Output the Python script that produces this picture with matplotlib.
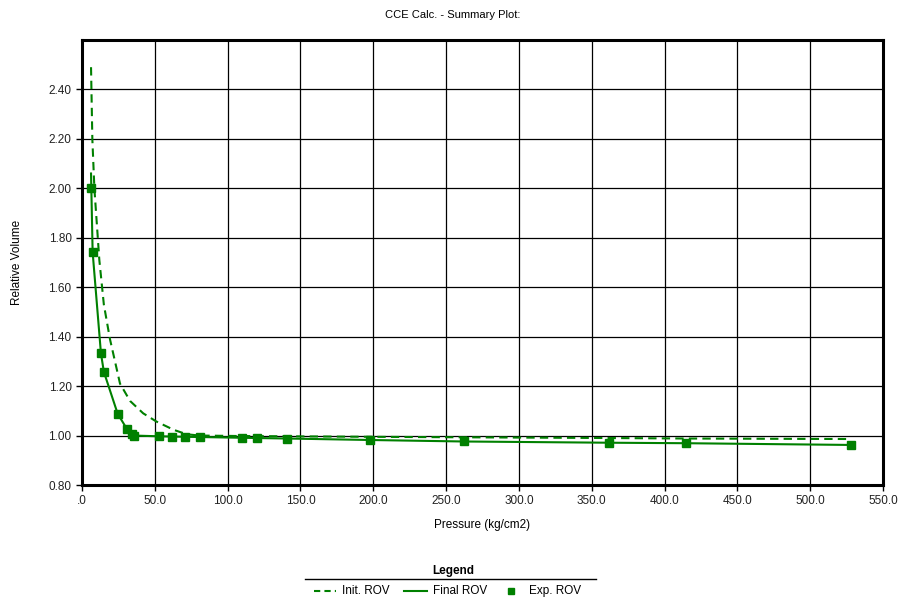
import matplotlib
matplotlib.use("Agg")
import matplotlib.pyplot as plt
from matplotlib.lines import Line2D

plt.rcParams['font.family'] = ['Liberation Sans', 'DejaVu Sans']

# Data
init_p = [6.2, 7.1, 8.5, 11.9, 15.0, 19.2, 26.1, 33.0, 42.0, 51.0, 63.0, 72.0, 81.0,
          110.0, 141.0, 198.0, 262.0, 362.0, 415.0, 528.0]
init_rov = [2.49, 2.20, 2.00, 1.71, 1.53, 1.39, 1.21, 1.14, 1.09, 1.057, 1.023, 1.005, 1.0,
            0.998, 0.997, 0.995, 0.993, 0.990, 0.988, 0.986]

final_p = [6.2, 7.3, 13.0, 15.0, 24.5, 30.8, 35.5, 53.0, 62.0, 71.0, 81.0,
           110.0, 120.0, 141.0, 198.0, 262.0, 362.0, 415.0, 528.0]
final_rov = [2.06, 1.742, 1.333, 1.258, 1.088, 1.027, 1.0, 0.997, 0.996, 0.995, 0.994,
             0.991, 0.990, 0.988, 0.982, 0.976, 0.971, 0.969, 0.962]

exp_p = [6.2, 7.3, 13.0, 15.0, 24.5, 30.8, 34.0, 35.5, 53.0, 62.0, 71.0, 81.0,
         110.0, 120.0, 141.0, 198.0, 262.0, 362.0, 415.0, 528.0]
exp_rov = [2.00, 1.742, 1.333, 1.258, 1.088, 1.027, 1.005, 1.0, 0.997, 0.996, 0.995, 0.994,
           0.991, 0.990, 0.988, 0.982, 0.976, 0.971, 0.969, 0.962]

x_ticks = [0, 50, 100, 150, 200, 250, 300, 350, 400, 450, 500, 550]
x_labels = ['.0', '50.0', '100.0', '150.0', '200.0', '250.0', '300.0', '350.0',
            '400.0', '450.0', '500.0', '550.0']
y_ticks = [0.8, 1.0, 1.2, 1.4, 1.6, 1.8, 2.0, 2.2, 2.4]
y_labels = ['0.80', '1.00', '1.20', '1.40', '1.60', '1.80', '2.00', '2.20', '2.40']

series_names = ['Init. ROV', 'Final ROV', 'Exp. ROV']

green = '#008000'
W, H = 904, 604

fig = plt.figure(figsize=(9.04, 6.04), dpi=100)
ax = fig.add_axes([82/W, 1-485/H, (883-82)/W, (485-40)/H])

ax.plot(init_p, init_rov, color=green, lw=1.5, ls=(0, (4, 2.5)))
ax.plot(final_p, final_rov, color=green, lw=1.5)
ax.plot(exp_p, exp_rov, ls='none', marker='s', ms=5.5, color=green)

ax.set_xlim(0, 550)
ax.set_ylim(0.8, 2.6)
ax.set_xticks(x_ticks)
ax.set_xticklabels(x_labels)
ax.set_yticks(y_ticks)
ax.set_yticklabels(y_labels)
ax.grid(True, color='black', lw=0.9)
ax.set_axisbelow(True)
for s in ax.spines.values():
    s.set_linewidth(2.2)
    s.set_color('black')
ax.tick_params(axis='both', direction='out', length=4, width=1, labelsize=8.5,
               colors='black', labelcolor='#222222')

ax.set_xlabel('Pressure (kg/cm2)', fontsize=8.5, labelpad=8)
ax.set_ylabel('Relative Volume', fontsize=8.5, labelpad=18)
fig.text(453/W, 1-15/H, 'CCE Calc. - Summary Plot:', ha='center', va='center', fontsize=8)

# Manual legend
def fx(px):
    return px / W

def fy(py):
    return 1 - py / H

fig.text(fx(453), fy(571), 'Legend', ha='center', va='center', fontsize=8.5, fontweight='bold')
fig.add_artist(Line2D([fx(305), fx(596)], [fy(579), fy(579)], color='black', lw=1,
                      transform=fig.transFigure))
ly = fy(591)
fig.add_artist(Line2D([fx(314), fx(336)], [ly, ly], color=green, lw=1.5, ls=(0, (3, 2)),
                      transform=fig.transFigure))
fig.text(fx(342), ly, series_names[0], ha='left', va='center', fontsize=8.5)
fig.add_artist(Line2D([fx(404), fx(427)], [ly, ly], color=green, lw=1.5,
                      transform=fig.transFigure))
fig.text(fx(433), ly, series_names[1], ha='left', va='center', fontsize=8.5)
fig.add_artist(Line2D([fx(511)], [ly], color=green, ls='none', marker='s', ms=4,
                      transform=fig.transFigure))
fig.text(fx(529), ly, series_names[2], ha='left', va='center', fontsize=8.5)

fig.savefig('out.png', dpi=100)
